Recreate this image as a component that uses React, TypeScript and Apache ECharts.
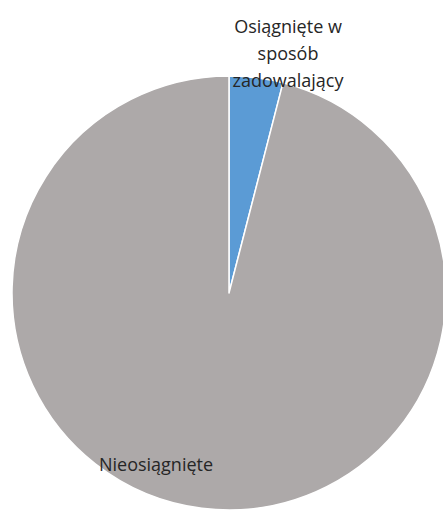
import React, { useEffect, useRef } from "react";
import * as echarts from "echarts";

const categories = ["Osiągnięte w\nsposób\nzadowalający", "Nieosiągnięte"];
const values = [4, 96];
const colors = ["#5B9BD5", "#ADA9A9"];

export default function App() {
  const ref = useRef<HTMLDivElement>(null);
  useEffect(() => {
    if (!ref.current) return;
    const chart = echarts.init(ref.current, null, { renderer: "svg" });
    chart.setOption({
      animation: false,
      backgroundColor: "#ffffff",
      series: [
        {
          type: "pie",
          center: [229, 293],
          radius: 217,
          startAngle: 90,
          clockwise: true,
          data: categories.map((name, i) => ({
            name,
            value: values[i],
            itemStyle: { color: colors[i] },
          })),
          itemStyle: { borderColor: "#ffffff", borderWidth: 1.5 },
          label: {
            show: true,
            position: "inside",
            formatter: "{b}",
            color: "#262626",
            fontFamily: "Open Sans",
            fontSize: 18,
            lineHeight: 27,
            align: "center",
          },
          labelLine: { show: false },
          labelLayout: (p: any) =>
            p.dataIndex === 0
              ? { x: 288, y: 53, align: "center", verticalAlign: "middle" }
              : { x: 156, y: 464, align: "center", verticalAlign: "middle" },
          emphasis: { disabled: true },
        },
      ],
    });
    return () => chart.dispose();
  }, []);
  return (
    <div
      ref={ref}
      style={{ position: "fixed", left: 0, top: 0, width: 443, height: 510 }}
    />
  );
}
